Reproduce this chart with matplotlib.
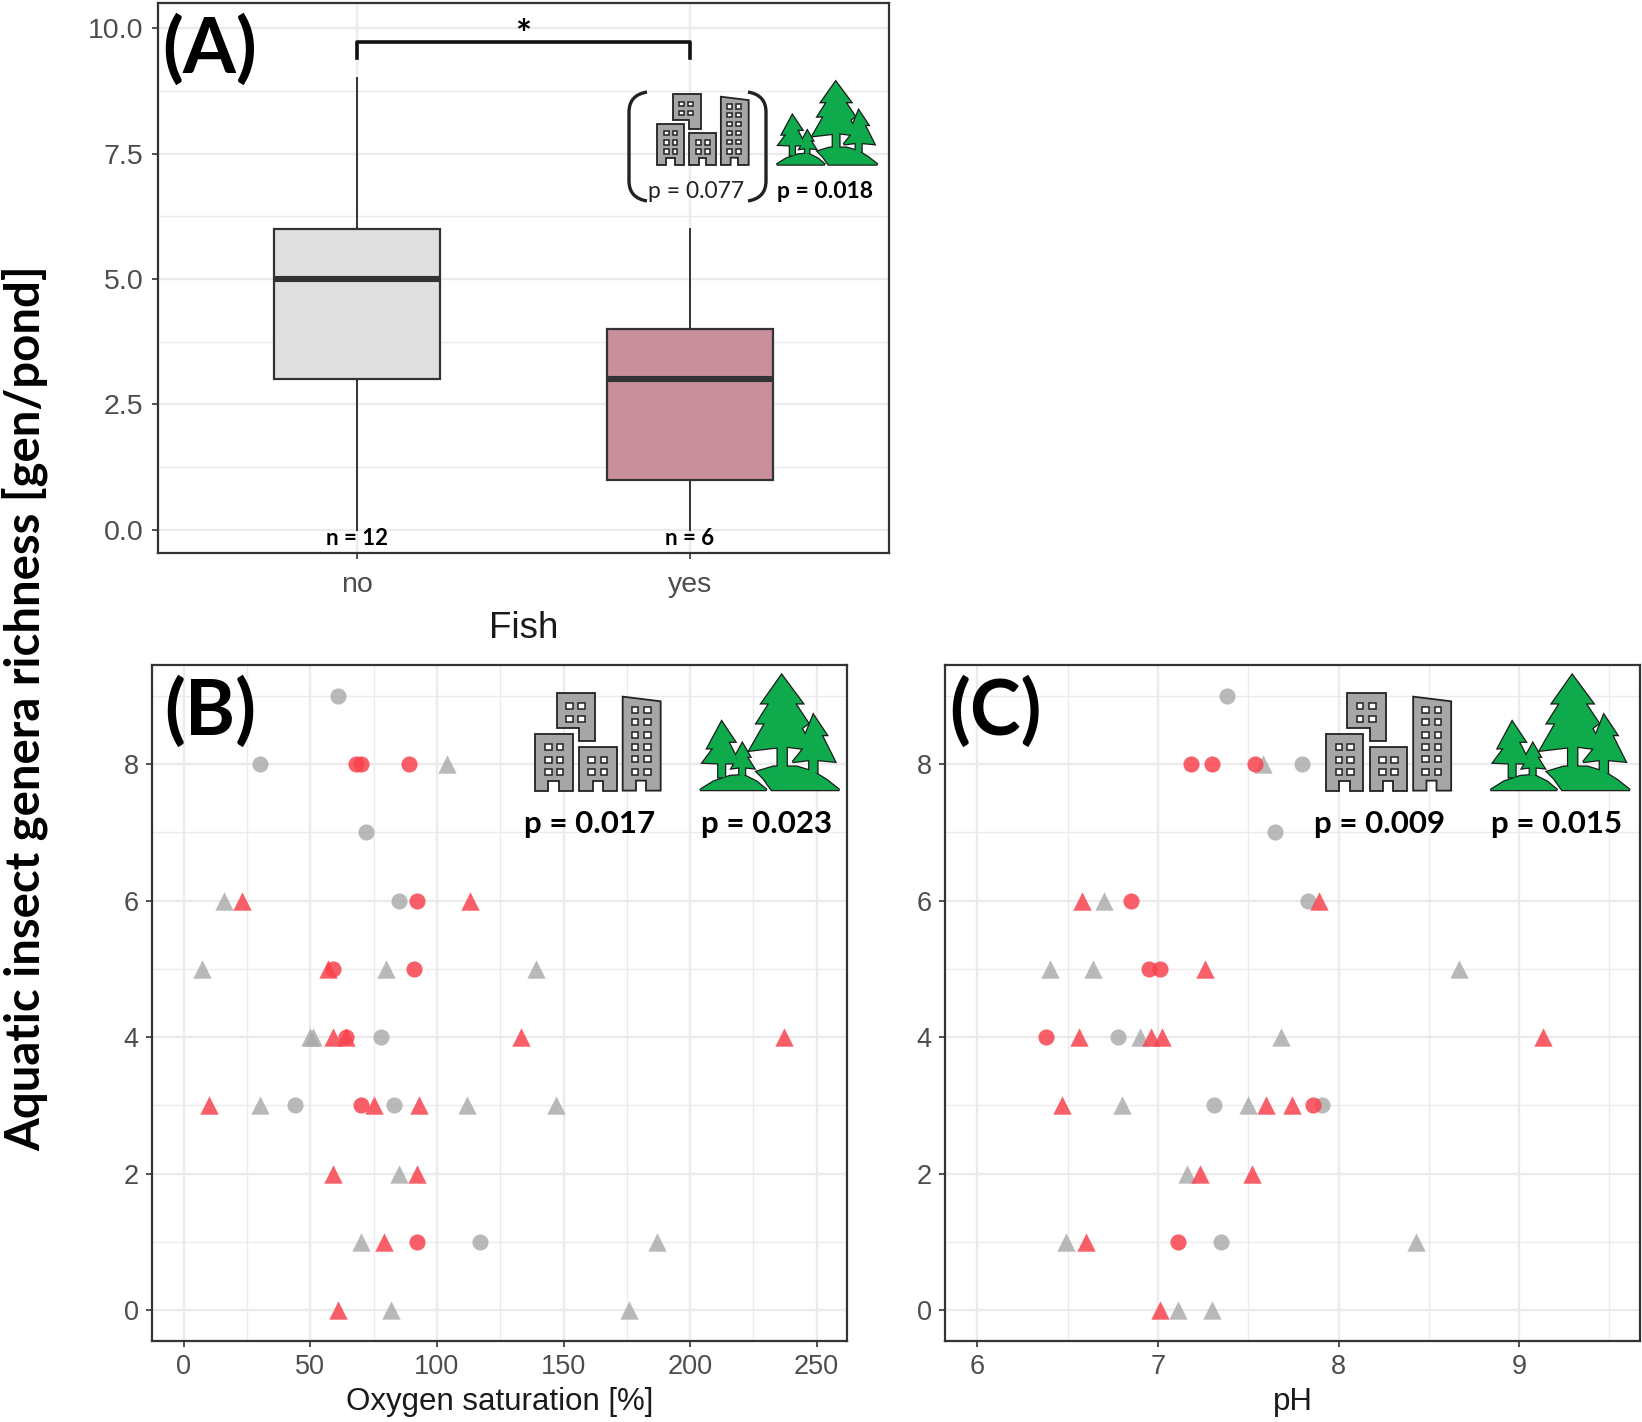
import matplotlib
matplotlib.use("Agg")
import matplotlib.pyplot as plt
from matplotlib.patches import Polygon, Rectangle, PathPatch
from matplotlib.path import Path

plt.rcParams['font.family'] = ['Liberation Sans', 'DejaVu Sans']

W, H = 1642, 1422

# panel A
fish_labels = ["no", "yes"]
box_q1 = [3, 1]
box_med = [5, 3]
box_q3 = [6, 4]
box_lo = [0, 0]
box_hi = [9, 6]
box_colors = ["#e0e0e0", "#c98f9b"]
fish_n = ["n = 12", "n = 6"]

# panel B, oxygen saturation (x) and richness (y)
ox_rt_x = [61, 79, 59, 92, 10, 75, 93, 59, 64, 133, 237, 57, 23, 113]
ox_rt_y = [0, 1, 2, 2, 3, 3, 3, 4, 4, 4, 4, 5, 6, 6]
ox_rc_x = [92, 70, 64, 59, 91, 92, 68, 70, 89]
ox_rc_y = [1, 3, 4, 5, 5, 6, 8, 8, 8]
ox_gt_x = [82, 176, 70, 187, 85, 30, 112, 147, 50, 51, 7, 80, 139, 16, 104]
ox_gt_y = [0, 0, 1, 1, 2, 3, 3, 3, 4, 4, 5, 5, 5, 6, 8]
ox_gc_x = [117, 44, 83, 78, 85, 72, 30, 61]
ox_gc_y = [1, 3, 3, 4, 6, 7, 8, 9]

# panel C, pH (x) and richness (y)
ph_rt_x = [7.01, 6.6, 7.23, 7.52, 6.47, 7.6, 7.74, 6.56, 6.96, 7.02, 9.13, 7.26, 6.58, 7.89]
ph_rt_y = [0, 1, 2, 2, 3, 3, 3, 4, 4, 4, 4, 5, 6, 6]
ph_rc_x = [7.11, 7.86, 6.38, 6.95, 7.01, 6.85, 7.18, 7.3, 7.54]
ph_rc_y = [1, 3, 4, 5, 5, 6, 8, 8, 8]
ph_gt_x = [7.11, 7.3, 6.49, 8.43, 7.16, 6.8, 7.5, 6.9, 7.68, 6.4, 6.64, 8.67, 6.7, 7.58]
ph_gt_y = [0, 0, 1, 1, 2, 3, 3, 4, 4, 5, 5, 5, 6, 8]
ph_gc_x = [7.35, 7.31, 7.91, 6.78, 7.83, 7.65, 7.8, 7.38]
ph_gc_y = [1, 3, 3, 4, 6, 7, 8, 9]

RED = "#f8434d"
GRAY = "#a8a8a8"
DARK = "#333333"
TICK = "#4d4d4d"
GRID = "#ebebeb"

fig = plt.figure(figsize=(W / 100, H / 100), dpi=100, facecolor="white")


def px_axes(left, right, top, bottom):
    return fig.add_axes([left / W, 1 - bottom / H, (right - left) / W, (bottom - top) / H])


def style(ax, tick_size, pad=6):
    ax.set_axisbelow(True)
    ax.grid(True, which="major", color=GRID, lw=1.7)
    ax.grid(True, which="minor", color=GRID, lw=1.0)
    for s in ax.spines.values():
        s.set_color(DARK)
        s.set_linewidth(1.6)
    ax.tick_params(which="major", length=4.5, width=1.2, color=DARK,
                   labelcolor=TICK, labelsize=tick_size, pad=pad)
    ax.tick_params(which="minor", length=0)


# ---- panel A
axa = px_axes(158, 889, 3, 553)
stats = []
for i in range(2):
    stats.append(dict(med=box_med[i], q1=box_q1[i], q3=box_q3[i],
                      whislo=box_lo[i], whishi=box_hi[i], fliers=[]))
bp = axa.bxp(stats, positions=[1, 2], widths=0.5, patch_artist=True, showcaps=False,
             showfliers=False,
             medianprops=dict(color=DARK, lw=4.4, solid_capstyle="butt"),
             whiskerprops=dict(color=DARK, lw=1.4),
             boxprops=dict(edgecolor=DARK, lw=1.6))
for patch, c in zip(bp["boxes"], box_colors):
    patch.set_facecolor(c)
axa.set_xlim(0.40, 2.60)
axa.set_ylim(-0.46, 10.5)
axa.set_xticks([1, 2])
axa.set_xticklabels(fish_labels)
axa.set_yticks([0, 2.5, 5, 7.5, 10])
axa.set_yticklabels(["0.0", "2.5", "5.0", "7.5", "10.0"])
axa.set_yticks([1.25, 3.75, 6.25, 8.75], minor=True)
style(axa, 20.5)
axa.tick_params(axis="x", pad=9.5)
axa.set_xlabel("Fish", fontsize=26.5, color="#1a1a1a", labelpad=9)

# bracket
axa.plot([1, 1, 2, 2], [9.4, 9.72, 9.72, 9.4], color="#111111", lw=2.6, solid_joinstyle="round")
for i, t in enumerate(fish_n):
    axa.text(i + 1, -0.17, t, ha="center", va="center", fontsize=16, fontweight="bold",
             family=["Lato", "DejaVu Sans"], color="black")


# ---- panels B and C
def scatter_panel(ax, rt, rc, gt, gc):
    ax.scatter(gt[0], gt[1], marker="^", s=175, color=GRAY, alpha=0.8, lw=0)
    ax.scatter(gc[0], gc[1], marker="o", s=135, color=GRAY, alpha=0.8, lw=0)
    ax.scatter(rt[0], rt[1], marker="^", s=175, color=RED, alpha=0.85, lw=0)
    ax.scatter(rc[0], rc[1], marker="o", s=135, color=RED, alpha=0.85, lw=0)
    ax.set_ylim(-0.45, 9.45)
    ax.set_yticks([0, 2, 4, 6, 8])
    ax.set_yticks([1, 3, 5, 7, 9], minor=True)


axb = px_axes(152, 847, 665, 1341)
scatter_panel(axb, (ox_rt_x, ox_rt_y), (ox_rc_x, ox_rc_y), (ox_gt_x, ox_gt_y), (ox_gc_x, ox_gc_y))
axb.set_xlim(-12.6, 262)
axb.set_xticks([0, 50, 100, 150, 200, 250])
axb.set_xticks([25, 75, 125, 175, 225], minor=True)
style(axb, 19.5, pad=5)
axb.set_xlabel("Oxygen saturation [%]", fontsize=22.5, color="#1a1a1a", labelpad=5)

axc = px_axes(945, 1640, 665, 1341)
scatter_panel(axc, (ph_rt_x, ph_rt_y), (ph_rc_x, ph_rc_y), (ph_gt_x, ph_gt_y), (ph_gc_x, ph_gc_y))
axc.set_xlim(5.82, 9.67)
axc.set_xticks([6, 7, 8, 9])
axc.set_xticks([6.5, 7.5, 8.5, 9.5], minor=True)
style(axc, 19.5, pad=5)
axc.set_xlabel("pH", fontsize=22.5, color="#1a1a1a", labelpad=5)

# ---- overlay in pixel coordinates for the icons and annotations
ov = fig.add_axes([0, 0, 1, 1], zorder=10)
ov.set_xlim(0, W)
ov.set_ylim(H, 0)
ov.axis("off")
ov.patch.set_alpha(0)

LATO = ["Lato", "DejaVu Sans"]


def buildings(x0, y0, sx, sy):
    # shapes measured on a 3x crop, icon origin is its top left corner
    def T(pts):
        return [(x0 + (a - 165) * sx, y0 + (b - 100) * sy) for a, b in pts]

    outline = "#222222"
    fill = "#a6a6a6"
    lw = 1.3
    shapes = [
        [(165, 222), (278, 222), (278, 392), (238, 392), (238, 362), (205, 362), (205, 392), (165, 392)],
        [(230, 100), (345, 100), (345, 242), (298, 242), (298, 205), (230, 205)],
        [(297, 260), (410, 260), (410, 392), (368, 392), (368, 362), (338, 362), (338, 392), (297, 392)],
        [(428, 110), (542, 124), (542, 392), (498, 392), (498, 362), (468, 362), (468, 392), (428, 392)],
    ]
    for s in shapes:
        ov.add_patch(Polygon(T(s), closed=True, fc=fill, ec=outline, lw=lw, joinstyle="miter"))
    windows = [(195, 252), (230, 252), (195, 290), (230, 290), (195, 327), (230, 327),
               (258, 130), (295, 130), (258, 167), (295, 167),
               (325, 290), (362, 290), (325, 327), (362, 327),
               (455, 142), (492, 142), (455, 177), (492, 177), (455, 215), (492, 215),
               (455, 251), (492, 251), (455, 288), (492, 288), (455, 327), (492, 327)]
    for a, b in windows:
        p = T([(a, b)])[0]
        ov.add_patch(Rectangle(p, 20 * sx, 18 * sy, fc="white", ec=outline, lw=1.1))


def forest(x0, y0, sx, sy):
    def T(pts):
        return [(x0 + (a - 660) * sx, y0 + (b - 45) * sy) for a, b in pts]

    fill = "#0eaa4b"
    outline = "#1a1a1a"
    shapes = [
        [(660, 390), (700, 365), (750, 348), (790, 345), (830, 365), (860, 390)],
        [(830, 335), (880, 320), (950, 320), (1000, 335), (1040, 360), (1078, 390), (875, 390), (850, 355)],
        [(905, 45), (968, 130), (945, 130), (985, 190), (965, 205), (1000, 270), (920, 260), (920, 325),
         (893, 325), (893, 262), (808, 272), (855, 190), (830, 190), (868, 130), (845, 130)],
        [(1000, 165), (1040, 225), (1025, 225), (1065, 305), (1012, 300), (1012, 340), (988, 334),
         (988, 300), (938, 306), (975, 260), (960, 255), (980, 215)],
        [(725, 185), (765, 245), (745, 245), (778, 310), (735, 310), (735, 352), (715, 352), (715, 310),
         (668, 308), (700, 265), (682, 265)],
        [(787, 250), (810, 290), (800, 290), (822, 325), (795, 322), (795, 345), (778, 345), (778, 322),
         (755, 325), (772, 295), (765, 290)],
    ]
    # outline first, then fill on top so the trees read as one shape
    for s in shapes:
        ov.add_patch(Polygon(T(s), closed=True, fc=fill, ec=outline, lw=1.8, joinstyle="miter"))
    for s in shapes:
        ov.add_patch(Polygon(T(s), closed=True, fc=fill, ec="none"))


# panel B icons
buildings(535, 693.3, 1 / 3, 1 / 3)
forest(700, 675, 1 / 3, 1 / 3)
# panel C icons
buildings(535 + 790.5, 693.3, 1 / 3, 1 / 3)
forest(700 + 790.5, 675, 1 / 3, 1 / 3)
# panel A icons
buildings(656.7, 94.3, 0.244, 0.242)
forest(776.7, 81.7, 0.241, 0.24)


def paren(xa, xb, y0, y1):
    v = [(xb, y0), (xa, y0 + 3), (xa, y0 + 20), (xa, (y0 + y1) / 2), (xa, y1 - 20), (xa, y1 - 3), (xb, y1)]
    c = [Path.MOVETO, Path.CURVE3, Path.CURVE3, Path.LINETO, Path.LINETO, Path.CURVE3, Path.CURVE3]
    ov.add_patch(PathPatch(Path(v, c), fc="none", ec="#222222", lw=2.4))


paren(629, 647, 92, 201)
paren(766, 748, 92, 201)

ov.text(696, 191, "p = 0.077", ha="center", va="center", fontsize=16.5, family=LATO, color="#222222")
ov.text(825, 191, "p = 0.018", ha="center", va="center", fontsize=16.5, fontweight="bold", family=LATO, color="black")
ov.text(590, 824, "p = 0.017", ha="center", va="center", fontsize=22.5, fontweight="bold", family=LATO, color="black")
ov.text(767, 824, "p = 0.023", ha="center", va="center", fontsize=22.5, fontweight="bold", family=LATO, color="black")
ov.text(1380, 824, "p = 0.009", ha="center", va="center", fontsize=22.5, fontweight="bold", family=LATO, color="black")
ov.text(1557, 824, "p = 0.015", ha="center", va="center", fontsize=22.5, fontweight="bold", family=LATO, color="black")

ov.text(523, 36, "*", ha="center", va="center", fontsize=27, fontweight="bold", family=LATO, color="black")

ov.text(210, 50, "(A)", ha="center", va="center", fontsize=55, fontweight="bold", family=LATO, color="black")
ov.text(210, 712, "(B)", ha="center", va="center", fontsize=55, fontweight="bold", family=LATO, color="black")
ov.text(995, 712, "(C)", ha="center", va="center", fontsize=55, fontweight="bold", family=LATO, color="black")

ov.text(25, 708, "Aquatic insect genera richness [gen/pond]", rotation=90, ha="center", va="center",
        fontsize=34, fontweight="bold", family=LATO, color="black")

fig.savefig("out.png", dpi=100)
